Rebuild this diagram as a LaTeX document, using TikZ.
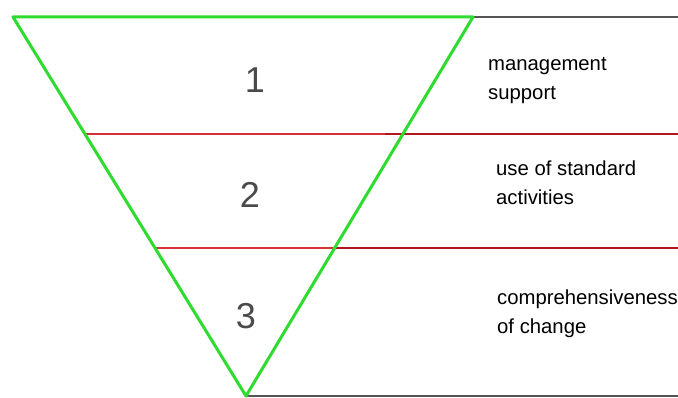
\documentclass[tikz,border=0pt]{standalone}
\usepackage{fontspec}
\setmainfont{Liberation Sans}
\usetikzlibrary{calc, positioning}
\definecolor{cgreen}{HTML}{2EDB2E}
\definecolor{cred}{HTML}{D8303A}
\definecolor{cdred}{HTML}{B0141E}
\definecolor{cgray}{HTML}{555555}
\definecolor{cnum}{HTML}{4A4A4A}

\begin{document}
\begin{tikzpicture}[
  x=1pt, y=-1pt,
  edge/.style={draw=cgreen, line width=3pt, line join=round},
  band/.style={draw=cred, line width=2.6pt},
  bandout/.style={draw=cdred, line width=2.6pt},
  rule/.style={draw=cgray, line width=2.6pt},
  num/.style={font=\fontsize{36}{36}\selectfont, text=cnum, inner sep=0pt},
  note/.style={font=\fontsize{20.3}{29}\selectfont, align=left, anchor=base west, inner sep=0pt},
  ]
\useasboundingbox (0,0) rectangle (678,398);
% corners of the funnel
\coordinate (tl) at (13,17);
\coordinate (tr) at (473,17);
\coordinate (apex) at (246,396);
% borders between the levels
\coordinate (l1) at ($(tl)!0.3087!(apex)$);
\coordinate (r1) at ($(tr)!0.3087!(apex)$);
\coordinate (l2) at ($(tl)!0.6095!(apex)$);
\coordinate (r2) at ($(tr)!0.6095!(apex)$);
\coordinate (e0) at (678,17);
\coordinate (e1) at (678,0 |- l1);
\coordinate (e2) at (678,0 |- l2);
\coordinate (e3) at (678,396);
\draw[band] (l1) -- (r1);
\draw[bandout] ($(r1)+(-18,0)$) -- (e1);
\draw[band] (l2) -- (r2);
\draw[bandout] (r2) -- (e2);
\draw[rule] (tr) -- (e0);
\draw[rule] (apex) -- (e3);
\draw[edge] (tl) -- (tr) -- (apex) -- cycle;
% level numbers
\node[num] (n1) at (255,80) {1};
\node[num] (n2) at (250,195) {2};
\node[num] (n3) at (246,316) {3};
% labels (base = last line)
\node[note] (t1) at (488,100) {management\\support};
\node[note] (t2) at (496,205) {use of standard\\activities};
\node[note] (t3) at (497,334) {comprehensiveness\\of change};
\end{tikzpicture}
\end{document}
